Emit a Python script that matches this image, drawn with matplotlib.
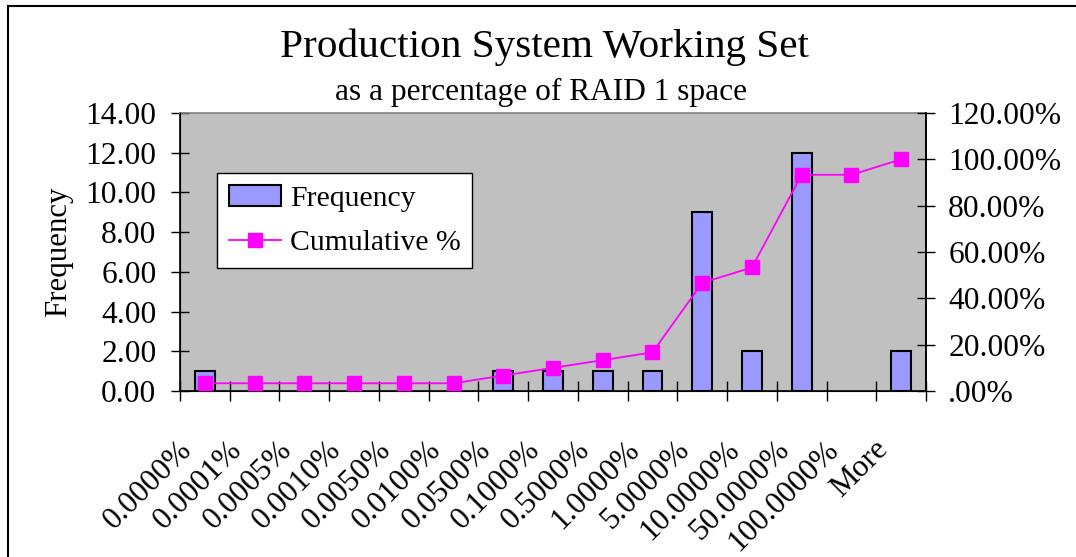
import numpy as np
import matplotlib
matplotlib.use('Agg')
import matplotlib.pyplot as plt
import matplotlib.transforms as mtransforms
from matplotlib.lines import Line2D
from matplotlib.ticker import FixedLocator, FuncFormatter

plt.rcParams['font.family'] = ['Liberation Serif', 'DejaVu Serif']

# bins of the histogram
bins = ['0.0000%', '0.0001%', '0.0005%', '0.0010%', '0.0050%', '0.0100%',
        '0.0500%', '0.1000%', '0.5000%', '1.0000%', '5.0000%', '10.0000%',
        '50.0000%', '100.0000%', 'More']
frequency = [1, 0, 0, 0, 0, 0, 1, 1, 1, 1, 9, 2, 12, 0, 2]
cumulative = [0.0333, 0.0333, 0.0333, 0.0333, 0.0333, 0.0333, 0.0667, 0.10,
              0.1333, 0.1667, 0.4667, 0.5333, 0.9333, 0.9333, 1.0]

W, H = 1076, 557
fig = plt.figure(figsize=(W / 100, H / 100), dpi=100)

# frame of the chart (only left and top edges visible)
fig.add_artist(Line2D([8 / W, 8 / W], [0, 1 - 6 / H], color='black', lw=1.5, transform=fig.transFigure))
fig.add_artist(Line2D([8 / W, 1], [1 - 6 / H, 1 - 6 / H], color='black', lw=1.5, transform=fig.transFigure))

ax = fig.add_axes([180 / W, 1 - 391 / H, (926 - 180) / W, (391 - 113) / H])
ax.set_facecolor('#C0C0C0')

x = np.arange(len(bins))
edges = ['black' if f > 0 else 'none' for f in frequency]
ax.bar(x, frequency, width=0.4, color='#9999FF', edgecolor=edges, linewidth=1.5,
       label='Frequency', zorder=2)
ax.set_xlim(-0.5, len(bins) - 0.5)
ax.set_ylim(0, 14)
ax.set_yticks(np.arange(0, 15, 2))
ax.yaxis.set_major_formatter(FuncFormatter(lambda v, p: '%.2f' % v))
ax.tick_params(axis='y', direction='inout', length=13, width=1, labelsize=22.7, pad=10.5)
ax.set_ylabel('Frequency', fontsize=22.2, labelpad=9)

ax.set_xticks(x)
ax.set_xticklabels(bins, rotation=45, ha='right', va='center', rotation_mode='anchor', fontsize=22.5)
ax.tick_params(axis='x', which='major', length=0, pad=39)
shift = mtransforms.ScaledTranslation(-17 / 100, 0, fig.dpi_scale_trans)
for lbl in ax.get_xticklabels():
    lbl.set_transform(lbl.get_transform() + shift)
ax.xaxis.set_minor_locator(FixedLocator(np.arange(-0.5, len(bins), 1.0)))
ax.tick_params(axis='x', which='minor', direction='inout', length=14, width=1)

for s in ['left', 'bottom', 'right']:
    ax.spines[s].set_color('black')
    ax.spines[s].set_linewidth(1.2)
ax.spines['top'].set_color('#808080')
ax.spines['top'].set_linewidth(1.2)

ax2 = ax.twinx()
ax2.plot(x, cumulative, color='#FF00FF', lw=1.3, marker='s', markersize=10,
         label='Cumulative %', zorder=3)
ax2.set_ylim(0, 1.2)
ax2.set_yticks(np.arange(0, 1.21, 0.2))
ax2.yaxis.set_major_formatter(FuncFormatter(
    lambda v, p: ('%.2f%%' % (v * 100)) if v > 0.001 else '.00%'))
ax2.tick_params(axis='y', direction='inout', length=13, width=1, labelsize=22.7, pad=9.5)
ax2.spines['right'].set_color('black')
ax2.spines['right'].set_linewidth(1.2)
ax2.spines['top'].set_visible(False)

h1, l1 = ax.get_legend_handles_labels()
h2, l2 = ax2.get_legend_handles_labels()
leg = ax2.legend(h1 + h2, l1 + l2, loc='upper left', bbox_to_anchor=(37 / 746, 1 - 60 / 278),
                 fontsize=21.4, frameon=True, fancybox=False, edgecolor='black',
                 framealpha=1, borderpad=0.4, handlelength=1.75, handletextpad=0.3,
                 labelspacing=0.6, borderaxespad=0)
leg.get_frame().set_linewidth(1)

fig.text(544 / W, 1 - 57 / H, 'Production System Working Set', fontsize=29.7,
         ha='center', va='baseline')
fig.text(541 / W, 1 - 100 / H, 'as a percentage of RAID 1 space', fontsize=22.6,
         ha='center', va='baseline')

fig.savefig('out.png', dpi=100)
